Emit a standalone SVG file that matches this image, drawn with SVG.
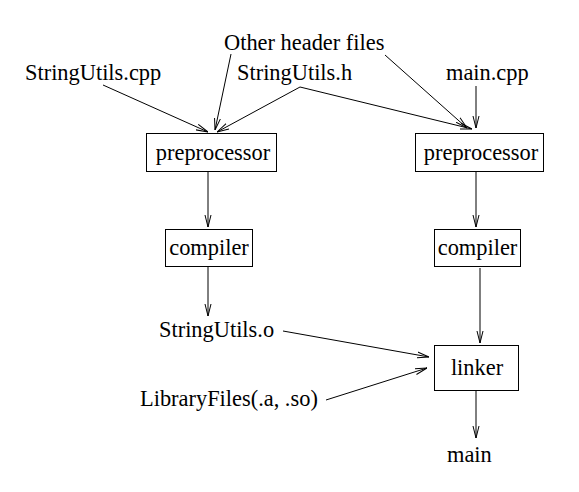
<svg xmlns="http://www.w3.org/2000/svg" width="579" height="492" viewBox="0 0 579 492">
<defs>
<style>
text{font-family:"Liberation Serif","Times New Roman",serif;font-size:22.4px;fill:#000}
.box{fill:#fff;stroke:#000;stroke-width:1}
.c{fill:none;stroke:#000;stroke-width:1}
</style>
<marker id="a" viewBox="0 0 12 8" refX="12" refY="4" markerWidth="12" markerHeight="8" markerUnits="userSpaceOnUse" orient="auto">
<path d="M0,1 L12,4 L0,7" fill="none" stroke="#000" stroke-width="1"/>
</marker>
</defs>
<rect width="579" height="492" fill="#fff"/>
<g id="connectors">
<line class="c" x1="103" y1="85" x2="208" y2="132" marker-end="url(#a)"/>
<line class="c" x1="231" y1="54" x2="215" y2="130" marker-end="url(#a)"/>
<line class="c" x1="300" y1="87" x2="217" y2="132" marker-end="url(#a)"/>
<line class="c" x1="300" y1="87" x2="472" y2="129" marker-end="url(#a)"/>
<line class="c" x1="385" y1="55" x2="467" y2="128" marker-end="url(#a)"/>
<line class="c" x1="476" y1="86" x2="476" y2="128" marker-end="url(#a)"/>
<line class="c" x1="208" y1="172" x2="208" y2="227" marker-end="url(#a)"/>
<line class="c" x1="208" y1="267" x2="208" y2="316" marker-end="url(#a)"/>
<line class="c" x1="476" y1="172" x2="476" y2="227" marker-end="url(#a)"/>
<line class="c" x1="480" y1="268" x2="480" y2="343" marker-end="url(#a)"/>
<line class="c" x1="283" y1="331" x2="429" y2="357" marker-end="url(#a)"/>
<line class="c" x1="326" y1="400" x2="427" y2="368" marker-end="url(#a)"/>
<line class="c" x1="476" y1="391" x2="476" y2="438" marker-end="url(#a)"/>
</g>
<g id="otherHeaders"><text x="224" y="50">Other header files</text></g>
<g id="stringUtilsCpp"><text x="25" y="80">StringUtils.cpp</text></g>
<g id="stringUtilsH"><text x="237" y="80">StringUtils.h</text></g>
<g id="mainCpp"><text x="446" y="80">main.cpp</text></g>
<g id="preprocessor1"><rect class="box" x="146.5" y="133.5" width="130" height="38"/><text x="213" y="160" text-anchor="middle">preprocessor</text></g>
<g id="preprocessor2"><rect class="box" x="415.5" y="133.5" width="128" height="38"/><text x="481" y="160" text-anchor="middle">preprocessor</text></g>
<g id="compiler1"><rect class="box" x="165.5" y="229.5" width="87" height="37"/><text x="209" y="255" text-anchor="middle">compiler</text></g>
<g id="compiler2"><rect class="box" x="434.5" y="229.5" width="86" height="37"/><text x="477.5" y="255" text-anchor="middle">compiler</text></g>
<g id="stringUtilsO"><text x="159" y="337">StringUtils.o</text></g>
<g id="libraryFiles"><text x="140" y="406">LibraryFiles(.a, .so)</text></g>
<g id="linker"><rect class="box" x="434.5" y="345.5" width="84" height="45"/><text x="477" y="375" text-anchor="middle">linker</text></g>
<g id="main"><text x="447" y="462">main</text></g>
</svg>
